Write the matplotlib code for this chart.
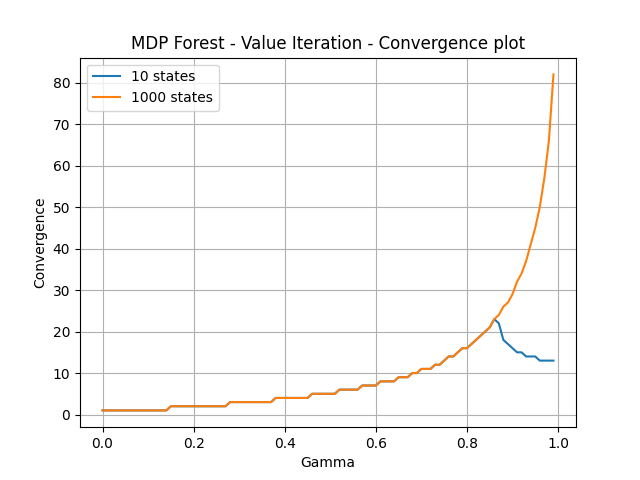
import numpy as np
import matplotlib
matplotlib.use("Agg")
import matplotlib.pyplot as plt

gamma = [i / 100 for i in range(100)]

conv_1000 = [1] * 15 + [2] * 13 + [3] * 10 + [4] * 8 + [5] * 6 + [6] * 5 + [7] * 4 + \
    [8] * 4 + [9] * 3 + [10] * 2 + [11] * 3 + [12] * 2 + \
    [13, 14, 14, 15, 16, 16, 17, 18, 19, 20, 21, 23, 24, 26, 27, 29, 32, 34, 37, 41, 45, 50, 57, 66, 82]

conv_10 = conv_1000[:87] + [22, 18, 17, 16, 15, 15, 14, 14, 14, 13, 13, 13, 13]

fig, ax = plt.subplots(figsize=(6.4, 4.8), dpi=100)
ax.plot(gamma, conv_10, label="10 states")
ax.plot(gamma, conv_1000, label="1000 states")
ax.set_title("MDP Forest - Value Iteration - Convergence plot")
ax.set_xlabel("Gamma")
ax.set_ylabel("Convergence")
ax.grid(True)
ax.legend(loc="upper left")
fig.savefig("out.png")
